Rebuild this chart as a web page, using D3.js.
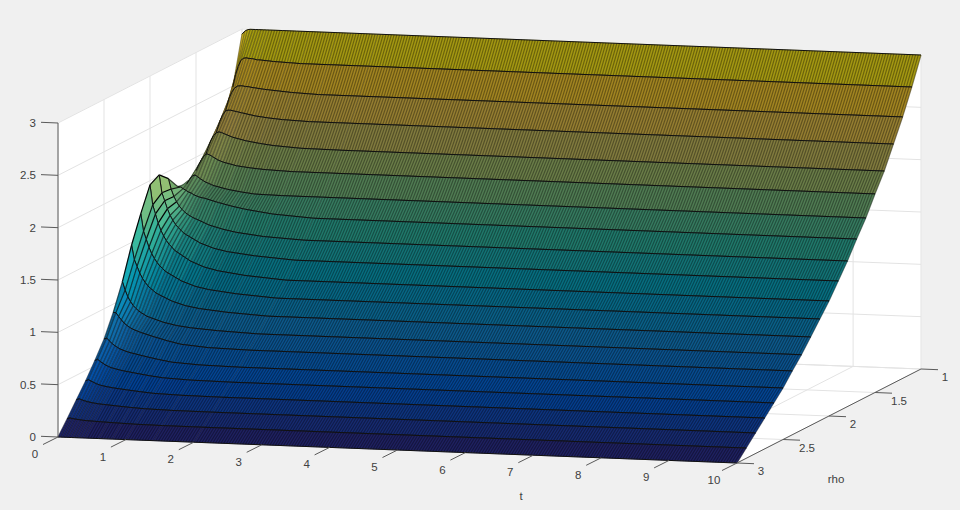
<!DOCTYPE html>
<html><head><meta charset="utf-8">
<script src="https://cdn.jsdelivr.net/npm/d3@7"></script>
<style>html,body{margin:0;padding:0;background:#f0f0f0}svg{display:block}text{font-family:"Liberation Sans",Arial,sans-serif;font-size:11.5px;fill:#404040}</style>
</head><body><svg id="c" width="960" height="510"></svg>
<script>
const tTicks=[0,1,2,3,4,5,6,7,8,9,10];
const rhoTicks=[1,1.5,2,2.5,3];
const zTicks=[0,0.5,1,1.5,2,2.5,3];
const rhoValues=[3,2.9,2.8,2.7,2.6,2.5,2.4,2.3,2.2,2.1,2,1.9,1.8,1.7,1.6,1.5,1.4,1.3,1.2,1.1,1];
const tValues=[0,.04,.08,.12,.16,.2,.24,.28,.32,.36,.4,.6,.8,1,1.4,2,10];
const zRows=[
[0,0,0,0,0,0,0,0,0,0,0,0,0,0,0,0,0],
[.13,.138,.133,.129,.126,.123,.12,.119,.117,.116,.115,.11,.106,.102,.099,.098,.098],
[.265,.277,.267,.259,.252,.247,.242,.239,.235,.233,.231,.221,.212,.205,.199,.197,.197],
[.40,.415,.401,.389,.378,.369,.362,.357,.353,.349,.345,.331,.318,.307,.299,.295,.295],
[.55,.564,.544,.527,.511,.499,.489,.482,.476,.471,.465,.445,.426,.411,.399,.394,.394],
[.71,.722,.694,.671,.651,.635,.621,.612,.602,.595,.589,.561,.536,.515,.499,.492,.492],
[.92,.92,.883,.852,.824,.802,.784,.771,.759,.75,.74,.703,.669,.641,.619,.61,.61],
[1.17,1.09,1.026,.981,.945,.918,.896,.878,.864,.848,.839,.797,.77,.754,.736,.72,.72],
[1.475,1.336,1.273,1.21,1.16,1.122,1.091,1.066,1.047,1.025,1.012,.952,.914,.892,.867,.845,.845],
[1.73,1.563,1.487,1.412,1.351,1.306,1.268,1.237,1.215,1.188,1.173,1.101,1.055,1.029,.999,.972,.972],
[1.96,1.77,1.684,1.598,1.529,1.477,1.434,1.4,1.374,1.344,1.327,1.245,1.194,1.164,1.129,1.099,1.099],
[2.01,1.84,1.765,1.689,1.628,1.582,1.543,1.513,1.49,1.463,1.448,1.375,1.329,1.302,1.272,1.245,1.245],
[1.93,1.831,1.761,1.711,1.671,1.641,1.616,1.596,1.581,1.566,1.556,1.501,1.466,1.441,1.411,1.391,1.391],
[1.81,1.806,1.791,1.776,1.761,1.751,1.736,1.726,1.716,1.711,1.706,1.671,1.641,1.616,1.581,1.556,1.556],
[1.79,1.832,1.867,1.877,1.862,1.842,1.827,1.812,1.802,1.792,1.782,1.752,1.732,1.717,1.712,1.712,1.712],
[1.87,1.927,1.977,2.017,2.035,2.027,2.012,1.997,1.982,1.972,1.962,1.932,1.917,1.907,1.897,1.897,1.897],
[1.96,2.041,2.111,2.161,2.191,2.201,2.196,2.186,2.176,2.166,2.156,2.126,2.106,2.091,2.075,2.071,2.071],
[2.07,2.174,2.254,2.314,2.354,2.364,2.364,2.359,2.354,2.349,2.344,2.319,2.304,2.294,2.284,2.284,2.284],
[2.22,2.338,2.428,2.488,2.528,2.548,2.553,2.553,2.548,2.548,2.543,2.528,2.518,2.508,2.498,2.498,2.498],
[2.49,2.609,2.689,2.749,2.769,2.774,2.769,2.769,2.764,2.759,2.759,2.749,2.744,2.739,2.739,2.739,2.739],
[2.95,2.98,2.995,3,3,3,3,3,3,3,3,3,3,3,3,3,3]
];
const parulaStops=["#352a87","#0363e1","#1485d4","#06a7c6","#38b99e","#92bf73","#d9ba56","#fcce2e","#f9fb0e"];
const parulaAt=[0,8,16,24,32,40,48,56,63];
const colorZ=d3.scaleLinear().domain(parulaAt.map(r=>3*r/63)).range(parulaStops).interpolate(d3.interpolateRgb);

// orthographic projection built from linear scales
const origin=[58,437];
const tX=d3.scaleLinear([0,10],[0,679]), tY=d3.scaleLinear([0,10],[0,26]);
const rX=d3.scaleLinear([3,1],[0,184]), rY=d3.scaleLinear([3,1],[0,-94]);
const zY=d3.scaleLinear([0,3],[0,-314]);
const P=(t,r,z)=>[origin[0]+tX(t)+rX(r),origin[1]+tY(t)+rY(r)+zY(z)];

const svg=d3.select("#c");
const line=d3.line();

// walls + floor
const wall=(pts)=>svg.append("path").attr("d",line(pts)+"Z").attr("fill","#fff").attr("stroke","#fff").attr("stroke-width",.5);
wall([P(0,3,0),P(0,1,0),P(0,1,3),P(0,3,3)]);
wall([P(0,1,0),P(10,1,0),P(10,1,3),P(0,1,3)]);
wall([P(0,3,0),P(10,3,0),P(10,1,0),P(0,1,0)]);
const GRID="#e3e3e3";
const gl=(a,b)=>svg.append("path").attr("d",line([a,b])).attr("stroke",GRID).attr("stroke-width",1).attr("fill","none");
zTicks.forEach(z=>{gl(P(0,3,z),P(0,1,z));gl(P(0,1,z),P(10,1,z));});
rhoTicks.forEach(r=>{gl(P(0,r,0),P(0,r,3));gl(P(0,r,0),P(10,r,0));});
tTicks.forEach(t=>{gl(P(t,1,0),P(t,1,3));gl(P(t,3,0),P(t,1,0));});

// surface, far to near; the fine t mesh is a texture inside each cell
const MESH=0.04, W=1.2, DMAX=0.45, surf=svg.append("g");
const rowPts=i=>tValues.map((t,k)=>P(t,rhoValues[i],zRows[i][k]));
const mix=(a,b,u)=>[a[0]+(b[0]-a[0])*u,a[1]+(b[1]-a[1])*u];
for(let i=rhoValues.length-2;i>=0;i--){
  const near=rowPts(i), far=rowPts(i+1);
  for(let k=0;k<tValues.length-1;k++){
    const t0=tValues[k], t1=tValues[k+1];
    const n=Math.round((t1-t0)/MESH);
    const q=[far[k],far[k+1],near[k+1],near[k]];
    const m=(zRows[i][k]+zRows[i][k+1]+zRows[i+1][k]+zRows[i+1][k+1])/4;
    // perpendicular gap between neighbouring mesh lines on screen
    const vx=(far[k][0]+far[k+1][0]-near[k][0]-near[k+1][0])/2, vy=(far[k][1]+far[k+1][1]-near[k][1]-near[k+1][1])/2;
    const ux=(near[k+1][0]-near[k][0]+far[k+1][0]-far[k][0])/2/n, uy=(near[k+1][1]-near[k][1]+far[k+1][1]-far[k][1])/2/n;
    const gap=Math.abs(ux*vy-uy*vx)/Math.hypot(vx,vy);
    const lineOp=0.35+0.65*Math.max(0,Math.min(1,(gap-3)/3));
    const cover=Math.min(1,W/gap), D=Math.min(DMAX,cover);
    const baseKeep=Math.min(1,(1-D)/(1-lineOp*cover));
    const c=d3.rgb(colorZ(m)), col=d3.rgb(c.r*baseKeep,c.g*baseKeep,c.b*baseKeep).formatHex();
    surf.append("path").attr("d",line(q)+"Z").attr("fill",col).attr("stroke",col).attr("stroke-width",.4);
    const h=d3.path();
    const last=k===tValues.length-2?n:n-1;
    for(let j=0;j<=last;j++){
      const u=j/n, a=mix(far[k],far[k+1],u), b=mix(near[k],near[k+1],u);
      h.moveTo(a[0],a[1]);h.lineTo(b[0],b[1]);
    }
    surf.append("path").attr("d",h.toString()).attr("stroke","#000").attr("stroke-opacity",lineOp).attr("stroke-width",W).attr("fill","none");
  }
  [far,near].forEach(r=>surf.append("path").attr("d",line(r)).attr("stroke","#111").attr("stroke-width",1).attr("fill","none"));
}

// axes
const AX="#5a5a5a";
const al=(a,b)=>svg.append("path").attr("d",line([a,b])).attr("stroke",AX).attr("stroke-width",1).attr("fill","none");
al(P(0,3,0),P(0,3,3));
al(P(10,3,0),P(10,1,0));
const txt=(x,y,s,anchor)=>svg.append("text").attr("x",x).attr("y",y).attr("text-anchor",anchor||"middle").attr("dy","0.35em").text(s);
zTicks.forEach(z=>{const p=P(0,3,z);al(p,[p[0]-17,p[1]-.7]);txt(p[0]-22,p[1],String(z),"end");});
tTicks.forEach(t=>{const p=P(t,3,0);al(p,[p[0]-15,p[1]+7.5]);txt(p[0]-23,p[1]+17,String(t));});
rhoTicks.forEach(r=>{const p=P(10,r,0);al(p,[p[0]+17,p[1]+.7]);txt(p[0]+24,p[1]+8,String(r));});
txt(521,496,"t");
txt(836,479,"rho");
</script></body></html>
